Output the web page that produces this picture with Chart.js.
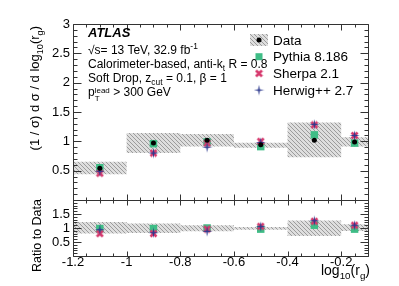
<!DOCTYPE html>
<html>
<head>
<meta charset="utf-8">
<script src="https://cdn.jsdelivr.net/npm/chart.js@4.4.0/dist/chart.umd.min.js"></script>
<style>
body { margin: 0; background: #fff; }
#wrap { position: relative; width: 399px; height: 286px; font-family: "Liberation Sans", Arial, sans-serif; color: #000; }
#c { position: absolute; left: 0; top: 0; }
.t { position: absolute; white-space: nowrap; line-height: 14px; font-size: 12px; }
.rot { transform-origin: 0 0; transform: rotate(-90deg) translate(-100%, -50%); }
sub, sup { font-size: 70%; line-height: 0; }
.ss { display: inline-block; vertical-align: -5px; font-size: 8px; line-height: 8px; }
</style>
</head>
<body>
<div id="wrap">
  <canvas id="c" width="399" height="286"></canvas>
  <div class="t" style="left:88px;top:26px;font-size:13px;font-weight:bold;font-style:italic;">ATLAS</div>
  <div class="t" style="left:88px;top:43px;">√s= 13 TeV, 32.9 fb<sup>-1</sup></div>
  <div class="t" style="left:88px;top:57px;">Calorimeter-based, anti-k<sub>t</sub> R = 0.8</div>
  <div class="t" style="left:88px;top:71px;">Soft Drop, z<sub>cut</sub> = 0.1, β = 1</div>
  <div class="t" style="left:88px;top:85px;">p<span class="ss">lead<br>T</span> &gt; 300 GeV</div>
  <div class="t rot" style="left:35px;top:26px;font-size:13px;">(1 / σ) d σ / d log<sub>10</sub>(r<sub>g</sub>)</div>
  <div class="t rot" style="left:37px;top:199px;font-size:12.5px;">Ratio to Data</div>
  <div class="t" style="right:29px;top:263px;font-size:14px;">log<sub>10</sub>(r<sub>g</sub>)</div>
</div>
<script>
// bins in log10(rg)
const binEdges = [-1.2, -1.0, -0.8, -0.6, -0.4, -0.2, -0.1];
const binCenters = [-1.1, -0.9, -0.7, -0.5, -0.3, -0.15];
const xTickVals = [-1.2, -1.0, -0.8, -0.6, -0.4, -0.2];

// top panel: normalised cross section
const dataVals = [0.54, 0.97, 1.02, 0.94, 1.02, 0.99];
const dataBandHi = [0.65, 1.14, 1.125, 0.977, 1.32, 1.07];
const dataBandLo = [0.44, 0.80, 0.91, 0.89, 0.73, 0.91];
const pythiaVals = [0.55, 0.96, 0.99, 0.91, 1.11, 0.97];
const sherpaVals = [0.455, 0.80, 0.97, 1.00, 1.28, 1.10];
const herwigVals = [0.49, 0.80, 0.90, 0.98, 1.29, 1.10];

// bottom panel: ratio to data
const ratioBandHi = [1.21, 1.16, 1.10, 1.04, 1.27, 1.13];
const ratioBandLo = [0.80, 0.82, 0.88, 0.94, 0.71, 0.89];
const pythiaRatio = [0.98, 0.98, 1.00, 0.96, 1.10, 0.96];
const sherpaRatio = [0.80, 0.80, 0.96, 1.06, 1.24, 1.10];
const herwigRatio = [0.94, 0.83, 0.88, 1.05, 1.26, 1.10];

const legendLabels = ["Data", "Pythia 8.186", "Sherpa 2.1", "Herwig++ 2.7"];

const green = "#3fbd86", pink = "#d6396d", blue = "#2d3a8e";
const fontFam = "'Liberation Sans', Arial, sans-serif";

function hatchPattern() {
    const p = document.createElement("canvas");
    p.width = 4; p.height = 4;
    const g = p.getContext("2d");
    g.fillStyle = "#dedede";
    g.fillRect(0, 0, 4, 4);
    g.strokeStyle = "#9c9c9c";
    g.lineWidth = 1;
    g.beginPath();
    g.moveTo(-1, -1); g.lineTo(5, 5);
    g.moveTo(-1, 3); g.lineTo(1, 5);
    g.moveTo(3, -1); g.lineTo(5, 1);
    g.stroke();
    return g.createPattern(p, "repeat");
}
const hatch = hatchPattern();

function crossMarker() {
    const m = document.createElement("canvas");
    m.width = 9; m.height = 9;
    const g = m.getContext("2d");
    g.strokeStyle = pink;
    g.lineWidth = 2.6;
    g.beginPath();
    g.moveTo(1.5, 1.5); g.lineTo(7.5, 7.5);
    g.moveTo(7.5, 1.5); g.lineTo(1.5, 7.5);
    g.stroke();
    return m;
}
function starMarker() {
    const m = document.createElement("canvas");
    m.width = 11; m.height = 11;
    const g = m.getContext("2d");
    g.fillStyle = blue;
    g.beginPath();
    for (let i = 0; i < 8; i++) {
        const r = i % 2 == 0 ? 5.2 : 1.2;
        const a = i * Math.PI / 4 - Math.PI / 2;
        const px = 5.5 + r * Math.cos(a), py = 5.5 + r * Math.sin(a);
        if (i == 0) g.moveTo(px, py); else g.lineTo(px, py);
    }
    g.closePath();
    g.fill();
    return m;
}
const crossImg = crossMarker();
const starImg = starMarker();

const pts = (vals) => binCenters.map((x, i) => ({ x: x, y: vals[i] }));
const steps = (vals) => binEdges.map((x, i) => ({ x: x, y: vals[Math.min(i, vals.length - 1)] }));

function bandSet(vals, axis, fill) {
    return {
        type: "line", data: steps(vals), yAxisID: axis, stepped: true,
        borderWidth: 0, borderColor: "rgba(0,0,0,0)", pointRadius: 0,
        backgroundColor: hatch, fill: fill, order: 10
    };
}
function markerSet(vals, axis, style, radius, color, order) {
    return {
        data: pts(vals), yAxisID: axis, pointStyle: style, pointRadius: radius,
        backgroundColor: color, borderColor: color, borderWidth: 0, order: order
    };
}

// frame + inward ROOT-style ticks
const framePlugin = {
    id: "frame",
    afterDatasetsDraw(chart) {
        const c = chart.ctx, xs = chart.scales.x;
        c.save();
        c.strokeStyle = "#333";
        c.lineWidth = 1;
        [chart.scales.y, chart.scales.yr].forEach((ys, k) => {
            const top = Math.round(ys.top) + 0.5, bot = Math.round(ys.bottom) + 0.5;
            const l = Math.round(xs.left) + 0.5, r = Math.round(xs.right) + 0.5;
            c.beginPath();
            c.rect(l, top, r - l, bot - top);
            for (let v = ys.min; v <= ys.max + 1e-6; v += 0.1) {
                const isMajor = Math.abs(v / 0.5 - Math.round(v / 0.5)) < 1e-6;
                const len = isMajor ? 8 : 4;
                const py = Math.round(ys.getPixelForValue(v)) + 0.5;
                c.moveTo(l, py); c.lineTo(l + len, py);
                c.moveTo(r, py); c.lineTo(r - len, py);
            }
            for (let i = 0; i <= 22; i++) {
                const v = -1.2 + i * 0.05;
                const len = i % 4 == 0 ? (k == 0 ? 6 : 5) : 3;
                const px = Math.round(xs.getPixelForValue(v)) + 0.5;
                c.moveTo(px, top); c.lineTo(px, top + len);
                c.moveTo(px, bot); c.lineTo(px, bot - len);
            }
            c.stroke();
        });
        c.restore();
    }
};

const legendPlugin = {
    id: "rootLegend",
    afterDraw(chart) {
        const c = chart.ctx;
        const x0 = 250, y0 = 40, dy = 16.7;
        c.save();
        c.fillStyle = hatch;
        c.fillRect(x0, y0 - 6, 18, 12);
        c.fillStyle = "#000";
        c.beginPath(); c.arc(x0 + 9, y0, 2.5, 0, Math.PI * 2); c.fill();
        c.fillStyle = green;
        c.fillRect(x0 + 5.5, y0 + dy - 3.5, 7, 7);
        c.drawImage(crossImg, x0 + 9 - 4.5, y0 + 2 * dy - 4.5);
        c.drawImage(starImg, x0 + 9 - 5.5, y0 + 3 * dy - 5.5);
        c.fillStyle = "#000";
        c.font = "13.5px " + fontFam;
        c.textBaseline = "middle";
        legendLabels.forEach((t, i) => c.fillText(t, x0 + 23, y0 + i * dy + 1));
        c.restore();
    }
};

const tickFont = { family: fontFam, size: 13 };
const noGrid = { display: false, drawTicks: false };

new Chart(document.getElementById("c"), {
    type: "scatter",
    data: {
        datasets: [
            bandSet(dataBandHi, "y", false),
            bandSet(dataBandLo, "y", 0),
            bandSet(ratioBandHi, "yr", false),
            bandSet(ratioBandLo, "yr", 2),
            markerSet(pythiaVals, "y", "rect", 5.3, green, 4),
            markerSet(sherpaVals, "y", crossImg, 4.5, pink, 3),
            markerSet(herwigVals, "y", starImg, 5.5, blue, 2),
            markerSet(dataVals, "y", "circle", 2.5, "#000", 1),
            markerSet(pythiaRatio, "yr", "rect", 5.3, green, 4),
            markerSet(sherpaRatio, "yr", crossImg, 4.5, pink, 3),
            markerSet(herwigRatio, "yr", starImg, 5.5, blue, 2)
        ]
    },
    options: {
        responsive: false,
        animation: false,
        events: [],
        layout: { padding: { top: 24, right: 31, left: 0, bottom: 0 } },
        plugins: { legend: { display: false }, tooltip: { enabled: false } },
        scales: {
            x: {
                type: "linear", min: -1.2, max: -0.1,
                grid: noGrid, border: { display: false },
                afterBuildTicks(s) { s.ticks = xTickVals.map(v => ({ value: v })); },
                ticks: { font: tickFont, color: "#000", padding: -1, maxRotation: 0, autoSkip: false,
                    callback: (v) => String(Math.round(v * 10) / 10) },
                afterFit(s) { s.height = 30; }
            },
            // stacked left axes are placed in reverse order: ratio first puts it below
            yr: {
                type: "linear", position: "left", stack: "v", stackWeight: 56,
                min: 0, max: 2,
                grid: noGrid, border: { display: false },
                ticks: { stepSize: 0.5, font: tickFont, color: "#000", padding: 3, autoSkip: false,
                    callback: (v) => (v == 0 || v == 2) ? "" : String(v) },
                afterFit(s) { s.width = 73; }
            },
            y: {
                type: "linear", position: "left", stack: "v", stackWeight: 176,
                min: 0, max: 3,
                grid: noGrid, border: { display: false },
                ticks: { stepSize: 0.5, font: tickFont, color: "#000", padding: 3, autoSkip: false,
                    callback: (v) => v == 0 ? "" : String(v) },
                afterFit(s) { s.width = 73; }
            }
        }
    },
    plugins: [framePlugin, legendPlugin]
});
</script>
</body>
</html>
